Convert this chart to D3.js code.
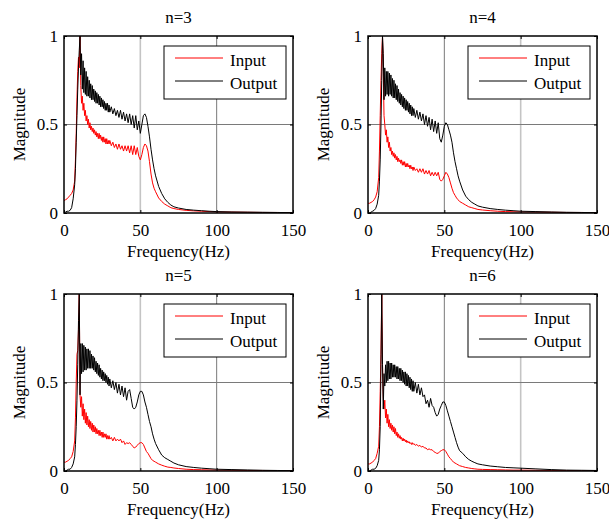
<!DOCTYPE html>
<html lang="en">
<head>
  <meta charset="UTF-8">
  <title>Input / Output spectra</title>
  <script src="https://cdn.jsdelivr.net/npm/d3@7"></script>
  <style>
    body { margin: 0; background: #fff; }
    text { font-family: "Liberation Serif", "Times New Roman", serif; }
  </style>
</head>
<body>
  <div id="my_dataviz"></div>

  <script>
    // Frequency grid (Hz) shared by every series
    var freq = [0, 1, 2, 3, 4, 5, 6, 7,
      7.5, 8, 8.5, 9, 9.5, 10, 10.5,
      11, 11.5, 12, 12.5, 13, 13.5, 14, 14.5, 15, 15.5, 16, 16.5, 17, 17.5, 18, 18.5, 19, 19.5, 20,
      20.5, 21, 21.5, 22, 22.5, 23, 23.5, 24, 24.5, 25, 25.5, 26, 26.5, 27, 27.5, 28, 28.5, 29, 29.5, 30,
      31, 32, 33, 34, 35, 36, 37, 38, 39, 40, 41, 42, 43, 44, 45, 46, 47, 48, 49, 50,
      51, 52, 53, 54, 55, 56, 57, 58, 59, 60,
      62, 64, 66, 68, 70, 72, 75, 80, 85, 90, 95, 100, 110, 120, 130, 140, 150];

    // n=3
    var input3 = [0.07, 0.075, 0.08, 0.09, 0.10, 0.11, 0.13, 0.18,
      0.30, 0.45, 0.65, 0.80, 0.88, 0.82, 1.0,
      0.72, 0.62, 0.66, 0.58, 0.62, 0.55, 0.58, 0.52, 0.55, 0.50, 0.53, 0.48, 0.51, 0.47, 0.49, 0.46, 0.48, 0.45, 0.47,
      0.44, 0.46, 0.43, 0.45, 0.42, 0.45, 0.42, 0.44, 0.41, 0.43, 0.40, 0.43, 0.40, 0.42, 0.39, 0.42, 0.39, 0.41, 0.39, 0.41,
      0.38, 0.40, 0.37, 0.39, 0.36, 0.39, 0.36, 0.38, 0.35, 0.38, 0.35, 0.38, 0.34, 0.38, 0.33, 0.38, 0.33, 0.37, 0.32, 0.30,
      0.33, 0.37, 0.39, 0.38, 0.35, 0.29, 0.22, 0.17, 0.14, 0.12,
      0.085, 0.065, 0.05, 0.04, 0.03, 0.025, 0.02, 0.015, 0.012, 0.01, 0.008, 0.006, 0.005, 0.004, 0.003, 0.003, 0.002];
    var output3 = [0, 0.005, 0.01, 0.01, 0.015, 0.03, 0.08, 0.16,
      0.25, 0.40, 0.55, 0.70, 0.82, 0.92, 1.0,
      0.78, 0.90, 0.70, 0.86, 0.68, 0.82, 0.67, 0.80, 0.66, 0.77, 0.66, 0.75, 0.65, 0.73, 0.64, 0.72, 0.64, 0.70, 0.63,
      0.69, 0.62, 0.68, 0.62, 0.67, 0.61, 0.66, 0.60, 0.65, 0.60, 0.64, 0.59, 0.63, 0.58, 0.62, 0.58, 0.62, 0.57, 0.61, 0.57,
      0.60, 0.56, 0.59, 0.55, 0.58, 0.54, 0.58, 0.53, 0.57, 0.52, 0.56, 0.51, 0.56, 0.50, 0.55, 0.48, 0.55, 0.47, 0.52, 0.45,
      0.50, 0.55, 0.56, 0.54, 0.49, 0.43, 0.36, 0.30, 0.25, 0.21,
      0.15, 0.11, 0.08, 0.06, 0.045, 0.035, 0.028, 0.02, 0.016, 0.013, 0.01, 0.008, 0.006, 0.005, 0.004, 0.003, 0.002];

    // n=4
    var input4 = [0.055, 0.055, 0.06, 0.065, 0.075, 0.09, 0.12, 0.20,
      0.35, 0.55, 0.75, 0.90, 1.0, 0.80, 0.55,
      0.50, 0.44, 0.47, 0.40, 0.43, 0.37, 0.40, 0.35, 0.37, 0.33, 0.35, 0.32, 0.34, 0.31, 0.33, 0.30, 0.32, 0.29, 0.31,
      0.29, 0.30, 0.28, 0.30, 0.27, 0.29, 0.27, 0.29, 0.26, 0.28, 0.26, 0.28, 0.26, 0.27, 0.25, 0.27, 0.25, 0.26, 0.24, 0.26,
      0.24, 0.25, 0.23, 0.25, 0.23, 0.25, 0.22, 0.24, 0.22, 0.24, 0.21, 0.23, 0.21, 0.23, 0.21, 0.23, 0.19, 0.18, 0.19, 0.21,
      0.23, 0.22, 0.20, 0.17, 0.14, 0.115, 0.10, 0.085, 0.075, 0.065,
      0.055, 0.045, 0.035, 0.03, 0.025, 0.02, 0.017, 0.013, 0.01, 0.008, 0.007, 0.006, 0.005, 0.004, 0.003, 0.003, 0.002];
    var output4 = [0, 0, 0.005, 0.01, 0.015, 0.025, 0.05, 0.10,
      0.18, 0.30, 0.50, 0.75, 1.0, 0.90, 0.64,
      0.82, 0.66, 0.80, 0.67, 0.80, 0.66, 0.79, 0.67, 0.78, 0.66, 0.76, 0.65, 0.75, 0.65, 0.73, 0.64, 0.72, 0.63, 0.70,
      0.62, 0.68, 0.61, 0.67, 0.60, 0.66, 0.59, 0.65, 0.58, 0.64, 0.58, 0.63, 0.57, 0.62, 0.56, 0.61, 0.55, 0.60, 0.55, 0.59,
      0.54, 0.58, 0.53, 0.57, 0.52, 0.56, 0.50, 0.55, 0.49, 0.54, 0.47, 0.53, 0.46, 0.52, 0.45, 0.51, 0.42, 0.40, 0.44, 0.49,
      0.51, 0.50, 0.47, 0.44, 0.40, 0.34, 0.29, 0.25, 0.21, 0.18,
      0.13, 0.095, 0.075, 0.06, 0.05, 0.04, 0.033, 0.025, 0.02, 0.016, 0.013, 0.01, 0.008, 0.006, 0.004, 0.003, 0.002];

    // n=5
    var input5 = [0.05, 0.05, 0.055, 0.06, 0.07, 0.08, 0.11, 0.17,
      0.30, 0.50, 0.66, 0.68, 0.80, 1.0, 0.43,
      0.36, 0.42, 0.31, 0.38, 0.29, 0.35, 0.27, 0.33, 0.26, 0.31, 0.25, 0.29, 0.24, 0.28, 0.23, 0.27, 0.22, 0.26, 0.22,
      0.25, 0.21, 0.24, 0.21, 0.23, 0.20, 0.23, 0.20, 0.22, 0.19, 0.22, 0.19, 0.21, 0.19, 0.21, 0.18, 0.20, 0.18, 0.20, 0.18,
      0.19, 0.17, 0.19, 0.17, 0.18, 0.17, 0.18, 0.16, 0.17, 0.15, 0.16, 0.155, 0.16, 0.15, 0.14, 0.13, 0.135, 0.145, 0.155, 0.16,
      0.16, 0.15, 0.13, 0.11, 0.10, 0.085, 0.07, 0.06, 0.055, 0.05,
      0.04, 0.033, 0.027, 0.022, 0.02, 0.017, 0.014, 0.01, 0.008, 0.007, 0.006, 0.005, 0.004, 0.003, 0.003, 0.002, 0.002];
    var output5 = [0, 0, 0.005, 0.01, 0.01, 0.02, 0.04, 0.08,
      0.15, 0.25, 0.40, 0.60, 0.85, 1.0, 0.43,
      0.72, 0.55, 0.72, 0.56, 0.71, 0.57, 0.70, 0.57, 0.69, 0.58, 0.69, 0.58, 0.68, 0.58, 0.66, 0.58, 0.65, 0.57, 0.64,
      0.56, 0.62, 0.55, 0.61, 0.54, 0.60, 0.53, 0.58, 0.52, 0.57, 0.51, 0.56, 0.51, 0.55, 0.50, 0.54, 0.49, 0.53, 0.48, 0.52,
      0.47, 0.51, 0.46, 0.50, 0.44, 0.49, 0.43, 0.48, 0.42, 0.47, 0.40, 0.45, 0.46, 0.41, 0.36, 0.35, 0.36, 0.39, 0.43, 0.45,
      0.45, 0.43, 0.39, 0.36, 0.32, 0.28, 0.25, 0.21, 0.18, 0.155,
      0.12, 0.09, 0.075, 0.065, 0.055, 0.045, 0.035, 0.025, 0.02, 0.016, 0.013, 0.01, 0.008, 0.006, 0.004, 0.003, 0.002];

    // n=6
    var input6 = [0.04, 0.04, 0.045, 0.05, 0.06, 0.07, 0.10, 0.14,
      0.25, 0.45, 0.66, 1.0, 0.60, 0.41, 0.35,
      0.40, 0.30, 0.35, 0.27, 0.32, 0.25, 0.29, 0.24, 0.27, 0.23, 0.26, 0.22, 0.25, 0.21, 0.24, 0.20, 0.22, 0.19, 0.21,
      0.185, 0.20, 0.18, 0.19, 0.17, 0.185, 0.17, 0.18, 0.165, 0.175, 0.16, 0.17, 0.16, 0.165, 0.155, 0.16, 0.15, 0.16, 0.15, 0.155,
      0.145, 0.15, 0.14, 0.145, 0.135, 0.14, 0.13, 0.13, 0.12, 0.125, 0.12, 0.12, 0.11, 0.105, 0.10, 0.10, 0.11, 0.115, 0.12, 0.12,
      0.11, 0.095, 0.08, 0.07, 0.06, 0.05, 0.045, 0.04, 0.035, 0.03,
      0.025, 0.02, 0.017, 0.014, 0.012, 0.01, 0.009, 0.008, 0.007, 0.006, 0.005, 0.005, 0.004, 0.003, 0.003, 0.002, 0.002];
    var output6 = [0, 0, 0.005, 0.01, 0.01, 0.015, 0.03, 0.06,
      0.12, 0.25, 0.60, 1.0, 0.60, 0.35, 0.55,
      0.48, 0.60, 0.50, 0.62, 0.51, 0.62, 0.52, 0.61, 0.52, 0.61, 0.53, 0.60, 0.53, 0.60, 0.53, 0.59, 0.52, 0.59, 0.52,
      0.58, 0.51, 0.58, 0.51, 0.57, 0.50, 0.56, 0.49, 0.56, 0.48, 0.55, 0.48, 0.54, 0.47, 0.53, 0.46, 0.52, 0.45, 0.51, 0.45,
      0.50, 0.44, 0.49, 0.43, 0.47, 0.42, 0.43, 0.38, 0.40, 0.36, 0.41, 0.37, 0.36, 0.33, 0.31, 0.32, 0.35, 0.37, 0.39, 0.39,
      0.37, 0.34, 0.31, 0.28, 0.25, 0.22, 0.19, 0.16, 0.135, 0.115,
      0.10, 0.08, 0.065, 0.055, 0.047, 0.04, 0.035, 0.028, 0.024, 0.02, 0.018, 0.016, 0.012, 0.008, 0.005, 0.004, 0.003];

    var titles = ["n=3", "n=4", "n=5", "n=6"];
    var xTicks = [0, 50, 100, 150];
    var yTicks = [0, 0.5, 1];
    var legendLabels = ["Input", "Output"];
    var xLabel = "Frequency(Hz)";
    var yLabel = "Magnitude";

    // panel layout
    var pw = 229, ph = 177;
    var panels = [
      { title: titles[0], input: input3, output: output3, left: 64, top: 36, light: 50 },
      { title: titles[1], input: input4, output: output4, left: 368, top: 36, light: 100 },
      { title: titles[2], input: input5, output: output5, left: 64, top: 294, light: 50 },
      { title: titles[3], input: input6, output: output6, left: 368, top: 294, light: 100 }
    ];
    var colors = ["#ff0000", "#000000"];
    var fontSize = 17;

    var svg = d3.select("#my_dataviz")
      .append("svg")
      .attr("width", 609)
      .attr("height", 519);

    panels.forEach(function (p, k) {
      var g = svg.append("g")
        .attr("transform", "translate(" + p.left + "," + p.top + ")");

      var x = d3.scaleLinear().domain([0, 150]).range([0, pw]);
      var y = d3.scaleLinear().domain([0, 1]).range([ph, 0]);

      // clip
      g.append("clipPath").attr("id", "clip" + k)
        .append("rect").attr("width", pw).attr("height", ph);

      // grid
      g.selectAll(".vgrid")
        .data(xTicks.slice(1, -1))
        .enter().append("line")
        .attr("x1", d => x(d)).attr("x2", d => x(d))
        .attr("y1", 0).attr("y2", ph)
        .attr("stroke", d => d === p.light ? "#c4c4c4" : "#7a7a7a")
        .attr("stroke-width", d => d === p.light ? 1.6 : 1);
      g.selectAll(".hgrid")
        .data(yTicks.slice(1, -1))
        .enter().append("line")
        .attr("x1", 0).attr("x2", pw)
        .attr("y1", d => y(d)).attr("y2", d => y(d))
        .attr("stroke", "#7a7a7a")
        .attr("stroke-width", 1);

      // lines
      var line = d3.line()
        .x((d, i) => x(freq[i]))
        .y(d => y(d));
      var lines = g.append("g").attr("clip-path", "url(#clip" + k + ")");
      [p.input, p.output].forEach(function (series, j) {
        lines.append("path")
          .datum(series)
          .attr("fill", "none")
          .attr("stroke", colors[j])
          .attr("stroke-width", 1)
          .attr("d", line);
      });

      // axes with inward ticks
      var xAxis = g.append("g")
        .attr("transform", "translate(0," + ph + ")")
        .call(d3.axisBottom(x).tickValues(xTicks).tickSizeInner(-3).tickSizeOuter(0).tickPadding(11));
      var yAxis = g.append("g")
        .call(d3.axisLeft(y).tickValues(yTicks).tickFormat(d3.format("")).tickSizeInner(-3).tickSizeOuter(0).tickPadding(6));
      g.append("g")
        .attr("transform", "translate(" + pw + ",0)")
        .call(d3.axisRight(y).tickValues(yTicks).tickFormat("").tickSizeInner(-3).tickSizeOuter(0));
      g.append("g")
        .call(d3.axisTop(x).tickValues(xTicks).tickFormat("").tickSizeInner(-3).tickSizeOuter(0));
      g.selectAll(".domain").remove();
      g.selectAll(".tick line").attr("stroke", "#000");
      [xAxis, yAxis].forEach(function (a) {
        a.attr("font-size", null).attr("font-family", null);
        a.selectAll("text")
          .style("font-size", fontSize + "px")
          .attr("fill", "#000");
      });

      // box
      g.append("rect")
        .attr("width", pw).attr("height", ph)
        .attr("fill", "none")
        .attr("stroke", "#000")
        .attr("stroke-width", 1.5);

      // title and labels
      g.append("text")
        .attr("x", pw / 2).attr("y", -13)
        .attr("text-anchor", "middle")
        .style("font-size", fontSize + "px")
        .text(p.title);
      g.append("text")
        .attr("x", pw / 2).attr("y", ph + 44)
        .attr("text-anchor", "middle")
        .style("font-size", fontSize + "px")
        .text(xLabel);
      g.append("text")
        .attr("transform", "translate(-39," + (ph / 2) + ") rotate(-90)")
        .attr("text-anchor", "middle")
        .style("font-size", fontSize + "px")
        .text(yLabel);

      // legend
      var lg = g.append("g")
        .attr("transform", "translate(" + (pw - 129) + ",10)");
      lg.append("rect")
        .attr("width", 122).attr("height", 53)
        .attr("fill", "#fff")
        .attr("stroke", "#000")
        .attr("stroke-width", 1);
      legendLabels.forEach(function (name, j) {
        var ly = 12 + j * 23;
        lg.append("line")
          .attr("x1", 11).attr("x2", 59)
          .attr("y1", ly).attr("y2", ly)
          .attr("stroke", colors[j])
          .attr("stroke-width", 1);
        lg.append("text")
          .attr("x", 66).attr("y", ly + 8)
          .style("font-size", fontSize + "px")
          .text(name);
      });
    });
  </script>
</body>
</html>
